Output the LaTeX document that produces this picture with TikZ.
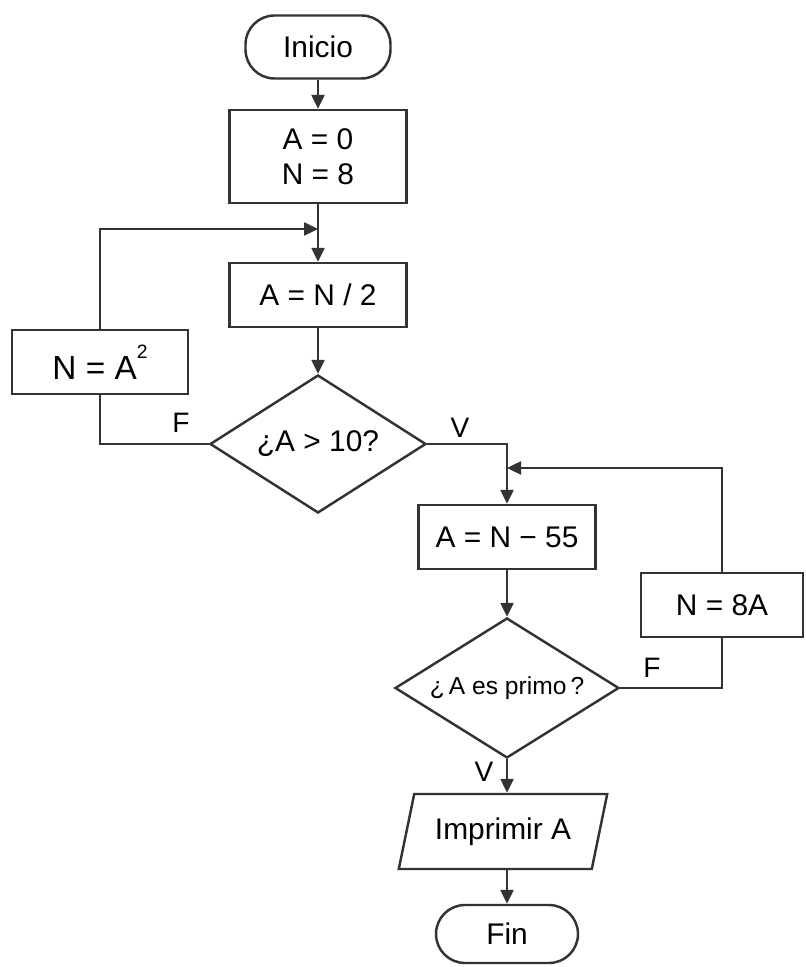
\documentclass[tikz,border=0pt]{standalone}
\usepackage{fontspec}
\setmainfont{Liberation Sans}
\usetikzlibrary{arrows.meta,shapes.geometric}

\begin{document}
\begin{tikzpicture}[>={Triangle[length=2.8mm,width=2.6mm]},
	linea/.style={draw=black!80,line width=1.4pt},
	caja/.style={linea,rectangle,minimum height=1.28cm,font=\fontsize{17}{20}\selectfont},
	term/.style={caja,rounded corners=0.58cm},
	rombo/.style={linea,diamond,shape aspect=1.56,inner sep=0pt,font=\fontsize{17}{20}\selectfont},
	etiq/.style={font=\fontsize{16}{18}\selectfont}]

\useasboundingbox (0,0) rectangle (16.1,19.34);

\def\xa{6.36}
\def\xb{10.14}

\node[term,minimum width=2.9cm,minimum height=1.26cm] (ini) at (\xa,18.40) {Inicio};
\node[caja,minimum width=3.54cm,minimum height=1.86cm,align=center] (datos) at (\xa,16.21) {A = 0\\N = 8};
\node[caja,minimum width=3.54cm] (mitad) at (\xa,13.44) {A = N / 2};
\node[caja,minimum width=3.52cm,font=\fontsize{19}{22}\selectfont] (cuad) at (2.0,12.10)
	{N = A\raisebox{1.2ex}{\fontsize{11}{12}\selectfont 2}};
\node[rombo,minimum width=4.32cm,minimum height=2.76cm] (cond) at (\xa,10.46) {¿A > 10?};
\node[caja,minimum width=3.54cm] (resta) at (\xb,8.6) {A = N − 55};
\node[caja,minimum width=3.24cm] (ocho) at (14.44,7.24) {N = 8A};
\node[rombo,minimum width=4.48cm,minimum height=2.8cm,font=\fontsize{14}{16}\selectfont] (primo) at (\xb,5.58) {¿\,A es primo\,?};
\node[caja,trapezium,trapezium left angle=72,trapezium right angle=108,trapezium stretches=true,
	minimum width=4.18cm,minimum height=1.5cm] (imp) at (10.06,2.71) {Imprimir A};
\node[term,minimum width=2.84cm,minimum height=1.16cm] (fin) at (\xb,0.66) {Fin};

\node[etiq] (f1) at (3.62,10.88) {F};
\node[etiq] (v1) at (9.2,10.78) {V};
\node[etiq] (f2) at (13.04,5.98) {F};
\node[etiq] (v2) at (9.68,3.9) {V};

\coordinate (j1) at (\xa,14.76);
\coordinate (j2) at (\xb,9.98);

\draw[linea,->] (ini) -- (datos);
\draw[linea,->] (datos) -- (mitad);
\draw[linea,->] (cuad.north) |- (j1);
\draw[linea,->] (mitad) -- (cond);
\draw[linea] (cond.west) -| (cuad.south);
\draw[linea,->] (cond.east) -| (resta.north);
\draw[linea,->] (ocho.north) |- (j2);
\draw[linea,->] (resta) -- (primo);
\draw[linea] (primo.east) -| (ocho.south);
\draw[linea,->] (primo.south) -- (primo.south |- imp.north);
\draw[linea,->] (fin.north |- imp.south) -- (fin.north);

\end{tikzpicture}
\end{document}
